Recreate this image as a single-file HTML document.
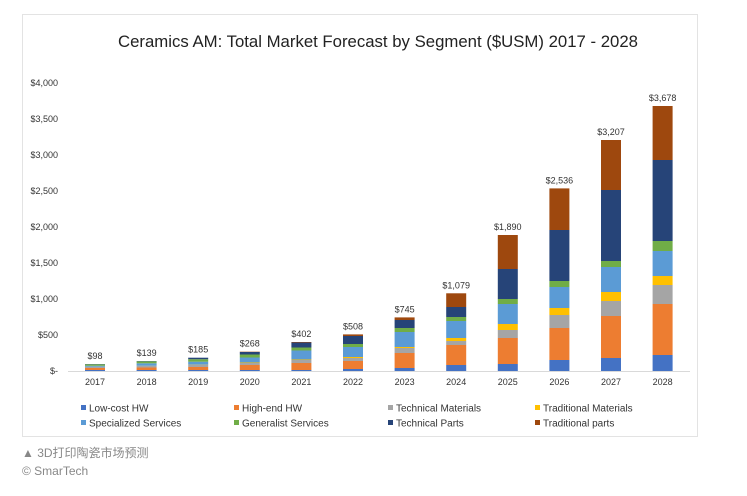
<!DOCTYPE html>
<html><head><meta charset="utf-8"><style>
body{margin:0;background:#fff;width:747px;height:496px;overflow:hidden;font-family:"Liberation Sans","Noto Sans CJK SC",sans-serif}
#frame{position:absolute;left:22px;top:14px;width:676px;height:423px;border:1px solid #e3e3e3;box-sizing:border-box}
.cap{position:absolute;left:22px;color:#888;font-size:12px}
</style></head><body>
<div id="frame"></div>
<svg id="s" width="747" height="496" style="position:absolute;left:0;top:0" font-family="Liberation Sans, sans-serif">
<text x="378" y="47" font-size="17" text-anchor="middle" fill="#222" textLength="520" lengthAdjust="spacingAndGlyphs">Ceramics AM: Total Market Forecast by Segment ($USM) 2017 - 2028</text>
<line x1="68" y1="371.5" x2="690" y2="371.5" stroke="#d9d9d9"/>
</svg>
<div class="cap" style="top:444px">▲ 3D打印陶瓷市场预测</div>
<div class="cap" style="top:464px">© SmarTech</div>
<script>
var s=document.getElementById('s'),ns='http://www.w3.org/2000/svg';
function el(t,a,txt){var e=document.createElementNS(ns,t);for(var k in a)e.setAttribute(k,a[k]);if(txt)e.textContent=txt;s.appendChild(e);return e;}
var cols=['#4472c4','#ed7d31','#a5a5a5','#ffc000','#5b9bd5','#70ad47','#264478','#9e480e'];
var yl=['$4,000','$3,500','$3,000','$2,500','$2,000','$1,500','$1,000','$500','$-'];
yl.forEach(function(t,i){el('text',{x:58,y:86+i*36,'font-size':9,'text-anchor':'end',fill:'#333'},t);});
var d=[
[1,2,1,0.2,1,1.5,0.3,0],
[1,2.5,1.5,0.2,2.5,2,0.3,0],
[1,3,2,0.3,3,2.5,1.5,0],
[1,5,2,0.5,5,3,2.5,0.3],
[1,7,3,0.5,9,3,5,0.5],
[2,8,3,1,10,3,8,1.6],
[3,15,5,1,15,4,8,2.6],
[6,20,4,3,17,4,10,13.7],
[7,26,8,6,20,5,30,34],
[11,32,13,7,21,6,51,41.6],
[13,42,15,9,25,6,71,50],
[16,51,19,9,25,10,81,54]];
var tot=['$98','$139','$185','$268','$402','$508','$745','$1,079','$1,890','$2,536','$3,207','$3,678'];
for(var i=0;i<12;i++){var cx=95+i*51.6,y=371;
 d[i].forEach(function(h,j){if(h>0){el('rect',{x:cx-10,y:y-h,width:20,height:h,fill:cols[j]});y-=h;}});
 el('text',{x:cx,y:y-5,'font-size':9,'text-anchor':'middle',fill:'#333'},tot[i]);
 el('text',{x:cx,y:385,'font-size':9,'text-anchor':'middle',fill:'#333'},String(2017+i));}
var lg=['Low-cost HW','High-end HW','Technical Materials','Traditional Materials','Specialized Services','Generalist Services','Technical Parts','Traditional parts'];
var lx=[83,236,390,537];
lg.forEach(function(t,k){var x=lx[k%4],y=k<4?408:423;
 el('rect',{x:x-2,y:y-3,width:5,height:5,fill:cols[k]});
 el('text',{x:x+6,y:y+3.5,'font-size':10,fill:'#333'},t);});
</script>
</body></html>
